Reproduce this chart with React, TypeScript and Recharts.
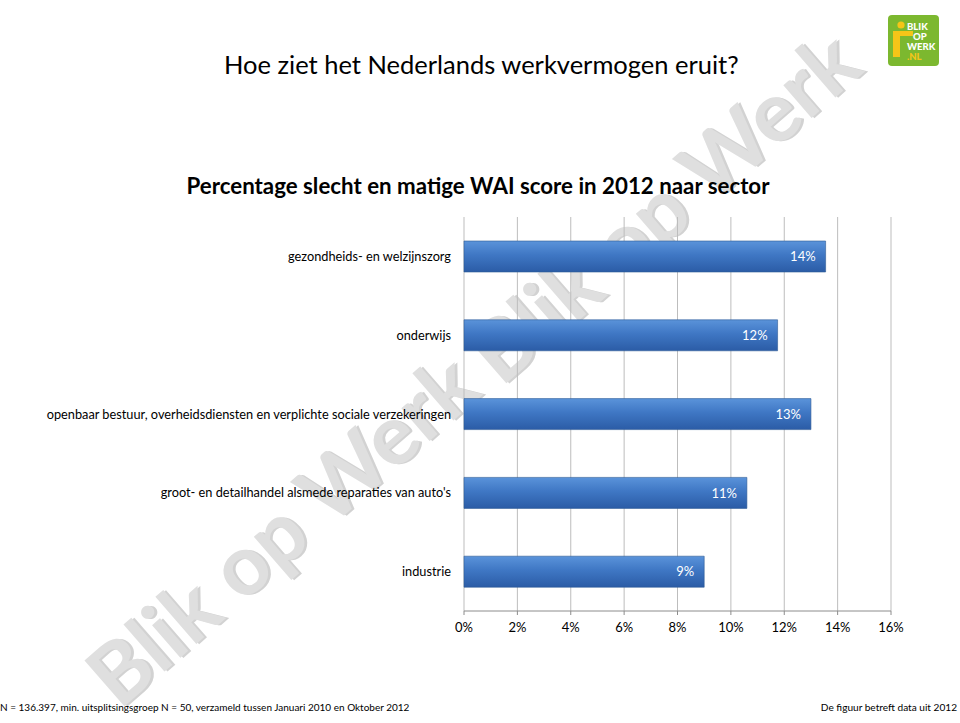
import React from "react";
import { BarChart, Bar, XAxis, YAxis, CartesianGrid, LabelList } from "recharts";

const categories = [
  "gezondheids- en welzijnszorg",
  "onderwijs",
  "openbaar bestuur, overheidsdiensten en verplichte sociale verzekeringen",
  "groot- en detailhandel alsmede reparaties van auto's",
  "industrie",
];
const values = [13.55, 11.75, 13.0, 10.6, 9.0];
const xTicks = [0, 2, 4, 6, 8, 10, 12, 14, 16];
const boundaryTicks = [0, 1, 2, 3, 4, 5];

const data = categories.map((name, i) => ({ name, value: values[i] }));

const FONT = "Lato, 'Liberation Sans', sans-serif";

function Watermark({ cx, cy }: { cx: number; cy: number }) {
  return (
    <g transform={`rotate(-41 ${cx} ${cy})`}>
      <text
        x={cx + 2}
        y={cy + 2}
        textAnchor="middle"
        dominantBaseline="central"
        fontFamily={FONT}
        fontWeight={700}
        fontSize={84}
        fill="#d2d2d2"
      >
        Blik op Werk
      </text>
      <text
        x={cx}
        y={cy}
        textAnchor="middle"
        dominantBaseline="central"
        fontFamily={FONT}
        fontWeight={700}
        fontSize={84}
        fill="#dfdfdf"
      >
        Blik op Werk
      </text>
    </g>
  );
}

function Logo() {
  return (
    <g>
      <rect x={888} y={15} width={51} height={51} rx={4} fill="#7cb82f" />
      <circle cx={901} cy={25} r={3.6} fill="#f5c518" />
      <path d="M893 31 H913 V36 H900 V57 H893 Z" fill="#f5c518" />
      <text fontFamily={FONT} fontWeight={900} fontSize={9.5} fill="#fff">
        <tspan x={907} y={30}>BLIK</tspan>
        <tspan x={913} y={40}>OP</tspan>
        <tspan x={907} y={50}>WERK</tspan>
        <tspan x={907} y={60} fill="#f5c518">.NL</tspan>
      </text>
    </g>
  );
}

export default function App() {
  return (
    <div style={{ position: "absolute", left: 0, top: 0, width: 960, height: 723, background: "#fff", overflow: "hidden" }}>
      <svg width={960} height={723} style={{ position: "absolute", left: 0, top: 0 }}>
        <Watermark cx={280} cy={528} />
        <Watermark cx={662} cy={205} />
        <Logo />
        <text x={224} y={74} fontFamily={FONT} fontSize={25.5} fill="#000">
          Hoe ziet het Nederlands werkvermogen eruit?
        </text>
        <text x={478} y={194} textAnchor="middle" fontFamily={FONT} fontWeight={700} fontSize={22.3} fill="#000">
          Percentage slecht en matige WAI score in 2012 naar sector
        </text>
        <text x={0} y={711} fontFamily={FONT} fontSize={10} fill="#000">
          N = 136.397, min. uitsplitsingsgroep N = 50, verzameld tussen Januari 2010 en Oktober 2012
        </text>
        <text x={957} y={711} textAnchor="end" fontFamily={FONT} fontSize={10.1} fill="#000">
          De figuur betreft data uit 2012
        </text>
      </svg>
      <div style={{ position: "absolute", left: 0, top: 0 }}>
        <BarChart
          width={960}
          height={723}
          data={data}
          layout="vertical"
          margin={{ top: 217, right: 69, bottom: 82, left: 0 }}
        >
          <defs>
            <linearGradient id="barGrad" x1="0" y1="0" x2="0" y2="1">
              <stop offset="0%" stopColor="#5a93da" />
              <stop offset="45%" stopColor="#3f77c4" />
              <stop offset="100%" stopColor="#2b5ca6" />
            </linearGradient>
          </defs>
          <CartesianGrid horizontal={false} stroke="#bdbdbd" />
          <XAxis
            type="number"
            domain={[0, 16]}
            ticks={xTicks}
            tickFormatter={(v: number) => `${v}%`}
            axisLine={{ stroke: "#8c8c8c" }}
            tickLine={{ stroke: "#8c8c8c" }}
            tickSize={4}
            tickMargin={8}
            height={30}
            tick={{ fill: "#000", fontSize: 13, fontFamily: FONT }}
          />
          <YAxis
            yAxisId={0}
            type="number"
            domain={[0, 5]}
            ticks={boundaryTicks}
            tick={false}
            tickSize={5}
            width={0}
            axisLine={{ stroke: "#8c8c8c" }}
            tickLine={{ stroke: "#8c8c8c" }}
          />
          <YAxis
            yAxisId="cat"
            type="category"
            dataKey="name"
            width={464}
            axisLine={false}
            tickLine={false}
            tickSize={0}
            tickMargin={13}
            interval={0}
            tick={{ fill: "#000", fontSize: 12.75, fontFamily: FONT }}
          />
          <Bar
            yAxisId="cat"
            dataKey="value"
            barSize={31}
            fill="url(#barGrad)"
            stroke="#2d5a96"
            strokeWidth={0.6}
            isAnimationActive={false}
          >
            <LabelList
              dataKey="value"
              position="insideRight"
              offset={10}
              formatter={(v: number) => `${Math.round(v)}%`}
              style={{ fill: "#fff", fontSize: 13, fontFamily: FONT }}
            />
          </Bar>
        </BarChart>
      </div>
    </div>
  );
}
